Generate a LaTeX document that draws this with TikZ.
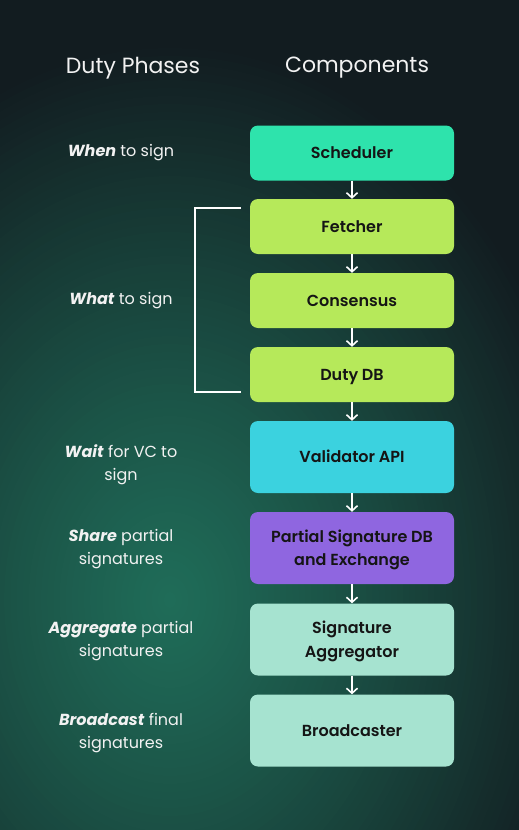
\documentclass[tikz,border=0pt]{standalone}
\usepackage{fontspec}
\setmainfont{Poppins}
\newfontfamily\medfont{Poppins SemiBold}
\usetikzlibrary{arrows.meta}
\definecolor{bgc}{HTML}{121C20}
\definecolor{glowc}{HTML}{1F6C58}
\definecolor{cSched}{HTML}{2EE3AC}
\definecolor{cLime}{HTML}{B6E95A}
\definecolor{cCyan}{HTML}{3BD2DF}
\definecolor{cPurp}{HTML}{8F66E0}
\definecolor{cMint}{HTML}{A6E3D0}
\definecolor{boxtext}{HTML}{151515}
\definecolor{lbltext}{HTML}{F2F2F2}
\tikzset{
  compbox/.style={rounded corners=8pt, minimum width=204pt, inner sep=0pt,
    font=\fontsize{16}{23.5}\selectfont\medfont, text=boxtext, align=center},
  oneline/.style={text height=13pt, text depth=2pt},
  shortbox/.style={compbox, oneline, minimum height=55pt},
  tallbox/.style={compbox, minimum height=72pt},
  phase/.style={font=\fontsize{16}{23}\selectfont, text=lbltext, align=center},
  header/.style={font=\fontsize{22}{26}\selectfont, text=lbltext},
  flow/.style={draw=white, line width=1.6pt, -{Straight Barb[length=5pt,width=11pt,line width=1.6pt]}},
  bracket/.style={draw=white, line width=2pt}
}
\begin{document}
\begin{tikzpicture}[x=1pt,y=-1pt]
\useasboundingbox (0,0) rectangle (519,830);
\begin{scope}
\clip (0,0) rectangle (519,830);
\fill[bgc] (0,0) rectangle (519,830);
\foreach \i in {0,...,69}{
  \pgfmathsetmacro{\ss}{1-\i/70}
  \pgfmathsetmacro{\mx}{100*(1-\ss^1.2)}
  \fill[glowc!\mx!bgc] (170,600) ellipse [x radius=430*\ss pt, y radius=560*\ss pt];
}
\end{scope}

\node[header] (h1) at (133,68) {Duty Phases};
\node[header] (h2) at (357,68) {Components};

\node[shortbox, fill=cSched] (sched) at (352,153) {Scheduler};
\node[shortbox, fill=cLime] (fetch) at (352,226.5) {Fetcher};
\node[shortbox, fill=cLime] (cons) at (352,300.5) {Consensus};
\node[shortbox, fill=cLime] (dutydb) at (352,374.5) {Duty DB};
\node[tallbox, oneline, fill=cCyan] (vapi) at (352,457) {Validator API};
\node[tallbox, fill=cPurp] (psig) at (352,548) {};
\node[tallbox, fill=cMint] (sigagg) at (352,639.5) {};
\node[tallbox, oneline, fill=cMint] (bcast) at (352,730.5) {Broadcaster};
\node[compbox] (psigt) at ([yshift=-2pt]psig.center) {Partial Signature DB\\and Exchange};
\node[compbox] (sigaggt) at ([yshift=-2pt]sigagg.center) {Signature\\Aggregator};

\draw[flow] (sched.south) -- (fetch.north);
\draw[flow] (fetch.south) -- (cons.north);
\draw[flow] (cons.south) -- (dutydb.north);
\draw[flow] (dutydb.south) -- (vapi.north);
\draw[flow] (vapi.south) -- (psig.north);
\draw[flow] (psig.south) -- (sigagg.north);
\draw[flow] (sigagg.south) -- (bcast.north);

\coordinate (b1) at (241,208);
\coordinate (b2) at (195,208);
\coordinate (b3) at (195,392);
\coordinate (b4) at (241,392);
\draw[bracket] (b1) -- (b2) -- (b3) -- (b4);

\node[phase] (p1) at (121,153) {\textbf{\textit{When}} to sign};
\node[phase] (p2) at (121,301) {\textbf{\textit{What}} to sign};
\node[phase] (p3) at (121,464.5) {\textbf{\textit{Wait}} for VC to\\sign};
\node[phase] (p4) at (121,549.5) {\textbf{\textit{Share}} partial\\signatures};
\node[phase] (p5) at (121,641.5) {\textbf{\textit{Aggregate}} partial\\signatures};
\node[phase] (p6) at (121,733.5) {\textbf{\textit{Broadcast}} final\\signatures};
\end{tikzpicture}
\end{document}
